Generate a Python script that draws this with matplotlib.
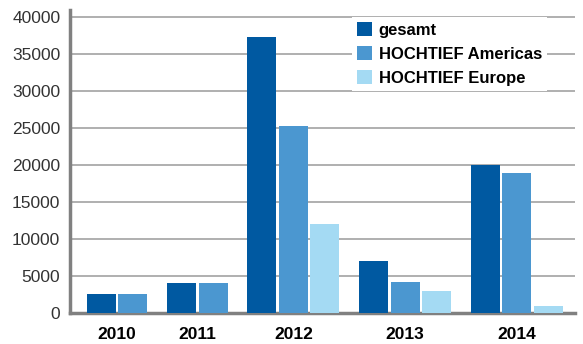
import numpy as np
import matplotlib.pyplot as plt

plt.rcParams['font.family'] = ['Liberation Sans', 'DejaVu Sans']

years = ["2010", "2011", "2012", "2013", "2014"]
series = ["gesamt", "HOCHTIEF Americas", "HOCHTIEF Europe"]
# None = no bar for that year
gesamt = [2600, 4000, 37400, 7100, 20000]
americas = [2600, 4000, 25300, 4150, 19000]
europe = [None, None, 12000, 3000, 1000]
colors = ["#0059a1", "#4b97d0", "#a4daf3"]

values = [gesamt, americas, europe]

# bar slots: one unit per bar, extra space between year groups
group_gap = 0.55
x = 0.0
positions = {}
centers = []
for j in range(len(years)):
    xs = []
    for i in range(len(series)):
        if values[i][j] is None:
            continue
        positions[(i, j)] = x
        xs.append(x)
        x += 1.0
    centers.append(np.mean(xs))
    x += group_gap

W, H = 583, 344
fig = plt.figure(figsize=(W / 100, H / 100), dpi=100)
ax = fig.add_axes([70 / W, 31 / H, 505 / W, 303 / H])

for i, name in enumerate(series):
    xs = [positions[(i, j)] for j in range(len(years)) if (i, j) in positions]
    ys = [values[i][j] for j in range(len(years)) if (i, j) in positions]
    ax.bar(xs, ys, width=0.92, color=colors[i], label=name, zorder=3)

ax.set_xlim(-1.0, x - group_gap - 0.15)
ax.set_ylim(0, 41000)
ax.set_yticks(np.arange(0, 40001, 5000))
ax.yaxis.grid(True, color="#9a9a9a", linewidth=1.1, zorder=0)
ax.set_xticks(centers)
ax.set_xticklabels(years, fontweight="bold", fontsize=12.5)
ax.tick_params(axis="x", length=0, pad=10)
ax.tick_params(axis="y", length=0, pad=7, labelsize=12.5, labelcolor="#333333")

for s in ["top", "right"]:
    ax.spines[s].set_visible(False)
for s in ["left", "bottom"]:
    ax.spines[s].set_color("#808080")
    ax.spines[s].set_linewidth(2.5)

leg = ax.legend(loc="upper left", bbox_to_anchor=(352 / W, 1 - 17 / H),
                bbox_transform=fig.transFigure, frameon=True, fancybox=False,
                edgecolor="none", facecolor="white", framealpha=1,
                prop={"weight": "bold", "size": 12}, handlelength=0.9,
                handleheight=0.9, handletextpad=0.4, labelspacing=0.5,
                borderpad=0.3, borderaxespad=0)
leg.set_zorder(5)

fig.savefig("out.png", dpi=100)
